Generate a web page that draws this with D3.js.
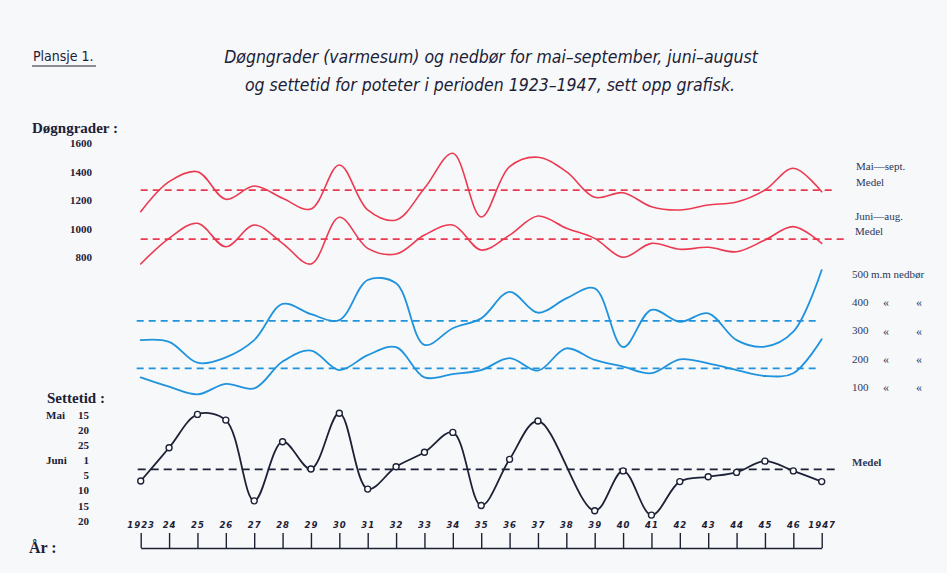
<!DOCTYPE html>
<html><head><meta charset="utf-8">
<script src="https://cdn.jsdelivr.net/npm/d3@7"></script>
<style>
html,body{margin:0;padding:0;background:#ffffff;}
svg{display:block;}
</style></head>
<body>
<svg id="chart" width="947" height="573"></svg>
<script>
// ---------------- data ----------------
const years = d3.range(1923, 1948);
const yearLabels = ["1923","24","25","26","27","28","29","30","31","32","33","34","35","36","37","38","39","40","41","42","43","44","45","46","1947"];
// Døgngrader (varmesum)
const maiSept = [1120,1331,1401,1207,1300,1214,1139,1448,1132,1062,1284,1530,1083,1436,1502,1401,1221,1253,1155,1132,1167,1188,1272,1425,1260];
const juniAug = [753,933,1039,874,1027,898,753,1081,863,823,956,1027,851,956,1090,1004,933,800,898,856,870,839,921,1015,898];
const maiSeptMedel = 1272;
const juniAugMedel = 927;
// Nedbør (mm)
const rainMaiSept = [267,261,187,206,267,395,359,338,480,468,250,309,344,438,364,415,450,242,374,332,362,267,244,297,515];
const rainJuniAug = [135,102,75,112,96,191,230,161,214,242,135,147,161,203,159,238,197,173,150,199,185,161,140,150,270];
const rainMaiSeptMedel = 335;
const rainJuniAugMedel = 167;
// Settetid: day counted from 1 May (Mai 15 = 15, Juni 1 = 32)
const settetid = [38,26.3,14.8,16.7,44.5,23.9,34.4,14.4,40.7,33.8,28.4,20.8,46,31.7,17,null,47.7,34.9,49.1,38.2,36.6,35.3,32.3,34.9,38.2];
const settetidMedel = 34.5;
// tick labels
const degTicks = [1600,1400,1200,1000,800];
const rainTicks = [500,400,300,200,100];
const setTicks = [15,20,25,32,36,41,46,51];
const setTickLabels = ["15","20","25","1","5","10","15","20"];
const setMonthLabels = [{v:15,t:"Mai"},{v:32,t:"Juni"}];

// ---------------- drawing ----------------
const svg = d3.select("#chart");
const RED = "#ec3a52", BLUE = "#1f93dd", INK = "#1c2136", NAVY = "#2b3658";
const serif = "'Liberation Serif','DejaVu Serif',serif";
const narrow = "'Liberation Sans Narrow','DejaVu Sans Condensed','Open Sans',sans-serif";

svg.append("rect").attr("x",0).attr("y",0).attr("width",947).attr("height",573).attr("fill","#f7f8fa");

const x = d3.scaleLinear().domain([1923,1947]).range([140.7,821.7]);
const yDeg = d3.scaleLinear().domain([800,1600]).range([257.3,143.3]);
const yRain = d3.scaleLinear().domain([100,500]).range([387.3,274.3]);
const ySet = d3.scaleLinear().domain(setTicks).range([415,430,445,460,475,490,505.5,521]);

// Title
svg.append("text").attr("x",33).attr("y",61).attr("font-family",narrow).attr("font-size",14)
  .attr("fill",INK).text("Plansje 1.");
svg.append("line").attr("x1",32).attr("x2",96).attr("y1",66).attr("y2",66).attr("stroke",INK).attr("stroke-width",1);
const title = svg.append("g").attr("font-family",narrow).attr("font-style","italic").attr("font-size",17.5)
  .attr("fill",INK).attr("text-anchor","middle");
title.append("text").attr("x",491).attr("y",63).text("Døgngrader (varmesum) og nedbør for mai–september, juni–august");
title.append("text").attr("x",490).attr("y",91).text("og settetid for poteter i perioden 1923–1947, sett opp grafisk.");

// Section headings
svg.append("text").attr("x",32).attr("y",133).attr("font-family",serif).attr("font-weight","bold")
  .attr("font-size",15).attr("fill",INK).text("Døgngrader :");
svg.append("text").attr("x",47).attr("y",403).attr("font-family",serif).attr("font-weight","bold")
  .attr("font-size",15).attr("fill",INK).text("Settetid :");
svg.append("text").attr("x",29).attr("y",553).attr("font-family",serif).attr("font-weight","bold")
  .attr("font-size",16).attr("fill",INK).text("År :");

// Degree axis (labels only)
const degAxis = d3.axisLeft(yDeg).tickValues(degTicks).tickSize(0).tickPadding(0).tickFormat(d3.format("d"));
const gDeg = svg.append("g").attr("transform","translate(92,0)").call(degAxis);
gDeg.select(".domain").remove();
gDeg.selectAll("text").attr("font-family",serif).attr("font-weight","bold").attr("font-size",11).attr("fill",INK);

// Settetid axis
const setAxis = d3.axisLeft(ySet).tickValues(setTicks).tickSize(0).tickPadding(0)
  .tickFormat((d,i)=>setTickLabels[i]);
const gSet = svg.append("g").attr("transform","translate(89,0)").call(setAxis);
gSet.select(".domain").remove();
gSet.selectAll("text").attr("font-family",serif).attr("font-weight","bold").attr("font-size",11).attr("fill",INK);
svg.selectAll("text.month").data(setMonthLabels).join("text").attr("class","month")
  .attr("x",46).attr("y",d=>ySet(d.v)).attr("dy","0.32em")
  .attr("font-family",serif).attr("font-weight","bold").attr("font-size",11).attr("fill",INK).text(d=>d.t);

// Rain labels (right)
const gRain = svg.append("g").attr("font-family",serif).attr("font-size",11).attr("fill",NAVY);
rainTicks.forEach((v,i)=>{
  const yy = yRain(v);
  gRain.append("text").attr("x",852).attr("y",yy).attr("dy","0.32em").text(v);
  if(i===0){
    gRain.append("text").attr("x",871).attr("y",yy).attr("dy","0.32em").text("m.m  nedbør");
  } else {
    gRain.append("text").attr("x",883).attr("y",yy).attr("dy","0.32em").attr("font-size",12).text("«");
    gRain.append("text").attr("x",916).attr("y",yy).attr("dy","0.32em").attr("font-size",12).text("«");
  }
});
// Right labels for degree curves
const rl = svg.append("g").attr("font-family",serif).attr("font-size",11).attr("fill",NAVY);
rl.append("text").attr("x",856).attr("y",170).text("Mai—sept.");
rl.append("text").attr("x",856).attr("y",186).text("Medel");
rl.append("text").attr("x",855).attr("y",220).text("Juni—aug.");
rl.append("text").attr("x",855).attr("y",235).text("Medel");
rl.append("text").attr("x",852).attr("y",466).attr("font-weight","bold").attr("fill",NAVY).text("Medel");

// Year axis
const xAxis = d3.axisTop(x).tickValues(years).tickSize(15).tickSizeOuter(0).tickPadding(5)
  .tickFormat((d,i)=>yearLabels[i]);
const gX = svg.append("g").attr("transform","translate(0,548)").call(xAxis);
gX.select(".domain").attr("stroke",INK).attr("stroke-width",1.6);
gX.selectAll(".tick line").attr("stroke",INK).attr("stroke-width",1.4);
gX.selectAll("text").attr("font-family","'DejaVu Sans',sans-serif").attr("font-style","italic")
  .attr("font-weight","bold").attr("font-size",8.5).attr("letter-spacing",1).attr("fill",INK);

// Curves
const curve = d3.curveCatmullRom.alpha(0.5);
function drawSeries(vals, yScale, color, width){
  const pts = years.map((yr,i)=>[yr, vals[i]]).filter(d=>d[1]!==null);
  svg.append("path").datum(pts)
    .attr("d", d3.line().x(d=>x(d[0])).y(d=>yScale(d[1])).curve(curve))
    .attr("fill","none").attr("stroke",color).attr("stroke-width",width)
    .attr("stroke-linejoin","round").attr("stroke-linecap","round");
  return pts;
}
function drawMean(v, yScale, color, x0, x1, dash, width){
  svg.append("line").attr("x1",x0).attr("x2",x1).attr("y1",yScale(v)).attr("y2",yScale(v))
    .attr("stroke",color).attr("stroke-width",width).attr("stroke-dasharray",dash);
}
drawMean(maiSeptMedel, yDeg, RED, x(1923), x(1947)+13, "7,5", 1.7);
drawMean(juniAugMedel, yDeg, RED, x(1923), x(1947)+26, "7,5", 1.7);
drawSeries(maiSept, yDeg, RED, 1.6);
drawSeries(juniAug, yDeg, RED, 1.6);

drawMean(rainMaiSeptMedel, yRain, BLUE, x(1923)-4, x(1947)-5, "7,5", 1.8);
drawMean(rainJuniAugMedel, yRain, BLUE, x(1923)-4, x(1947)-5, "7,5", 1.8);
drawSeries(rainMaiSept, yRain, BLUE, 1.8);
drawSeries(rainJuniAug, yRain, BLUE, 1.8);

drawMean(settetidMedel, ySet, INK, x(1923)-3, x(1947)+16, "8,5", 1.8);
const sp = drawSeries(settetid, ySet, INK, 1.8);
svg.selectAll("circle.mk").data(sp).join("circle").attr("class","mk")
  .attr("cx",d=>x(d[0])).attr("cy",d=>ySet(d[1])).attr("r",3)
  .attr("fill","#ffffff").attr("stroke",INK).attr("stroke-width",1.4);
</script>
</body></html>
